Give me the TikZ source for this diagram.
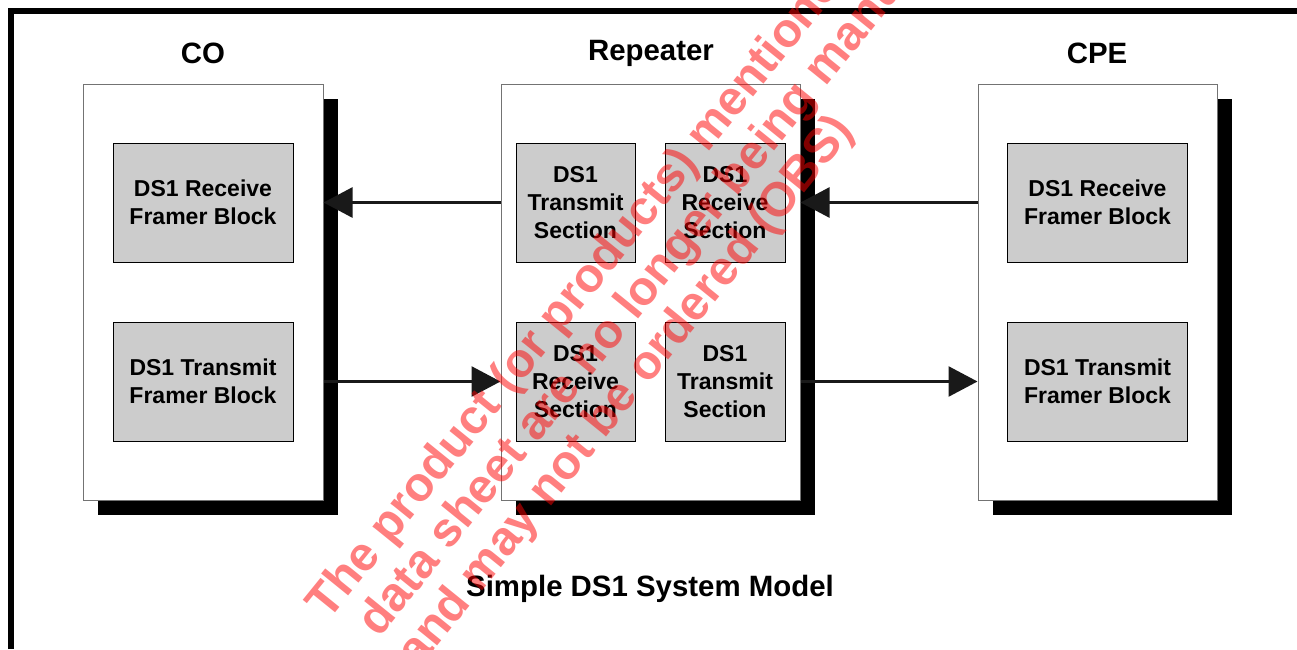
\documentclass[tikz,border=0pt]{standalone}
\usepackage{fontspec}
\setmainfont{Liberation Sans}
\usetikzlibrary{arrows.meta,shadows}

\begin{document}
\begin{tikzpicture}[x=0.5pt,y=-0.5pt,
      unit/.style={draw=black!55, line width=0.5pt, fill=white, inner sep=0pt,
                   minimum height=208pt,
                   drop shadow={shadow xshift=7.5pt, shadow yshift=-7.5pt, fill=black, opacity=1}},
      blk/.style={draw=black, line width=0.5pt, fill=black!20, inner sep=0pt,
                  minimum width=90pt, minimum height=59.5pt, align=center,
                  font=\fontsize{11.5}{14}\selectfont\bfseries},
      sec/.style={blk, minimum width=59.5pt},
      ttl/.style={font=\fontsize{14.7}{17}\selectfont\bfseries},
      lnk/.style={line width=1.3pt, draw=black!90, -{Triangle[length=14.5pt,width=15pt]}},
      wm/.style={text=red, text opacity=0.5, anchor=base west, inner sep=0pt, rotate=51,
                 font=\fontsize{24}{25}\selectfont\bfseries}]
    \useasboundingbox (0,0) rectangle (1297,649);
    % frame
    \draw[line width=3pt] (11,649) -- (11,11) -- (1297,11);
    % CO
    \node[ttl] (tco) at (203,53) {CO};
    \node[unit, minimum width=120pt] (co) at (203,292) {};
    \node[blk] (crx) at (203,202.5) {DS1 Receive\\Framer Block};
    \node[blk] (ctx) at (203,381.5) {DS1 Transmit\\Framer Block};
    % Repeater
    \node[ttl] (trp) at (651,53) {Repeater};
    \node[unit, minimum width=149.5pt] (rp) at (650.5,292) {};
    \node[sec] (rtx1) at (575.5,202.5) {DS1\\Transmit\\Section};
    \node[sec, minimum width=60pt] (rrx1) at (725,202.5) {DS1\\Receive\\Section};
    \node[sec] (rrx2) at (575.5,381.5) {DS1\\Receive\\Section};
    \node[sec, minimum width=60pt] (rtx2) at (725,381.5) {DS1\\Transmit\\Section};
    % CPE
    \node[ttl] (tcpe) at (1097,53) {CPE};
    \node[unit, minimum width=119.5pt] (cpe) at (1097.5,292) {};
    \node[blk] (prx) at (1097.5,202.5) {DS1 Receive\\Framer Block};
    \node[blk] (ptx) at (1097.5,381.5) {DS1 Transmit\\Framer Block};
    % links
    \draw[lnk] (rtx1.west -| rp.west) -- (rtx1.west -| co.east);
    \draw[lnk] (ctx.east -| co.east) -- (ctx.east -| rp.west);
    \draw[lnk] (prx.west -| cpe.west) -- (prx.west -| rp.east);
    \draw[lnk] (rtx2.east -| rp.east) -- (rtx2.east -| cpe.west);
    \node[ttl] (cap) at (650,589) {Simple DS1 System Model};
    % watermark
    \begin{scope}
      \clip (0,0) rectangle (1297,649);
      \node[wm] (wm1) at (328,622) {The product (or products) mentioned in this};
      \node[wm] (wm2) at (379,639) {data sheet are no longer being manufactured};
      \node[wm] (wm3) at (418,670) {and may not be ordered (OBS)};
    \end{scope}
  \end{tikzpicture}
\end{document}
